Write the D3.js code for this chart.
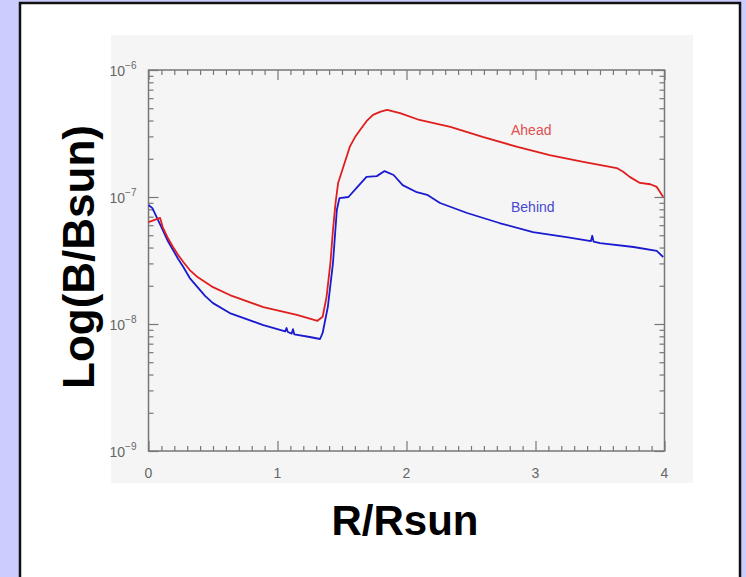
<!DOCTYPE html>
<html>
<head>
<meta charset="utf-8">
<script src="https://cdn.jsdelivr.net/npm/d3@7"></script>
<style>
  body { margin: 0; background: #ccccff; }
  svg { display: block; }
</style>
</head>
<body>
<div id="chart"></div>
<script>
// Ahead (red) and Behind (blue) profiles, R/Rsun vs B/Bsun
var aheadR = [0.00, 0.09, 0.11, 0.15, 0.19, 0.23, 0.27, 0.32, 0.38, 0.50, 0.63, 0.89, 1.15, 1.31, 1.35, 1.38, 1.41, 1.43, 1.45, 1.47, 1.51, 1.56, 1.60, 1.64, 1.69, 1.74, 1.80, 1.85, 1.95, 2.10, 2.34, 2.59, 2.86, 3.11, 3.37, 3.63, 3.68, 3.73, 3.81, 3.89, 3.94, 3.99]
var aheadB = [6.35e-8, 6.84e-8, 5.8e-8, 4.75e-8, 4.04e-8, 3.49e-8, 3.08e-8, 2.66e-8, 2.34e-8, 1.95e-8, 1.69e-8, 1.36e-8, 1.18e-8, 1.06e-8, 1.14e-8, 1.63e-8, 3.02e-8, 5.5e-8, 9.0e-8, 1.29e-7, 1.72e-7, 2.48e-7, 2.95e-7, 3.37e-7, 3.95e-7, 4.43e-7, 4.7e-7, 4.85e-7, 4.58e-7, 4.04e-7, 3.56e-7, 2.97e-7, 2.48e-7, 2.14e-7, 1.89e-7, 1.69e-7, 1.58e-7, 1.44e-7, 1.29e-7, 1.26e-7, 1.2e-7, 1.0e-7]

var behindR = [0.00, 0.03, 0.11, 0.15, 0.19, 0.23, 0.27, 0.32, 0.38, 0.44, 0.50, 0.63, 0.89, 1.06, 1.07, 1.08, 1.11, 1.12, 1.13, 1.25, 1.33, 1.35, 1.39, 1.43, 1.46, 1.48, 1.55, 1.62, 1.69, 1.77, 1.83, 1.90, 1.97, 2.08, 2.16, 2.26, 2.47, 2.72, 2.98, 3.24, 3.43, 3.44, 3.45, 3.50, 3.76, 3.94, 3.99]
var behindB = [8.65e-8, 8.18e-8, 5.5e-8, 4.5e-8, 3.83e-8, 3.25e-8, 2.81e-8, 2.3e-8, 1.95e-8, 1.66e-8, 1.46e-8, 1.22e-8, 9.8e-9, 8.75e-9, 9.3e-9, 8.65e-9, 8.4e-9, 9.1e-9, 8.3e-9, 7.9e-9, 7.62e-9, 8.5e-9, 1.36e-8, 3.02e-8, 7.9e-8, 9.8e-8, 1.0e-7, 1.2e-7, 1.44e-7, 1.46e-7, 1.6e-7, 1.49e-7, 1.24e-7, 1.09e-7, 1.04e-7, 8.97e-8, 7.48e-8, 6.24e-8, 5.3e-8, 4.84e-8, 4.5e-8, 4.95e-8, 4.45e-8, 4.34e-8, 4.04e-8, 3.76e-8, 3.37e-8]

var xTicks = [0, 1, 2, 3, 4]
var yTicks = [1e-9, 1e-8, 1e-7, 1e-6]
var yTickExp = ["\u22129", "\u22128", "\u22127", "\u22126"]
var seriesNames = ["Ahead", "Behind"]

var svgWidth = 746
var svgHeight = 577

var margin = { top: 70, left: 148.5, right: 81.5, bottom: 126 }
var width = svgWidth - margin.left - margin.right
var height = svgHeight - margin.top - margin.bottom

var svg = d3.select("#chart")
  .append("svg")
  .attr("width", svgWidth)
  .attr("height", svgHeight)

// slide panel
svg.append("rect")
  .attr("x", 20).attr("y", 3)
  .attr("width", 720).attr("height", 590)
  .attr("fill", "#ffffff")
  .attr("stroke", "#111")
  .attr("stroke-width", 2.5)

// plot image background
svg.append("rect")
  .attr("x", 111).attr("y", 35)
  .attr("width", 582).attr("height", 448)
  .attr("fill", "#f5f5f5")

var chartGroup = svg.append("g")
  .attr("transform", `translate(${margin.left}, ${margin.top})`)

var x = d3.scaleLinear().domain([0, 4]).range([0, width])
var y = d3.scaleLog().domain([1e-9, 1e-6]).range([height, 0])

var xMinor = d3.range(0, 40).map(i => i / 10).filter(v => v % 1 !== 0)
var yMinor = []
yTicks.slice(0, 3).forEach(t => { for (var k = 2; k < 10; k++) yMinor.push(t * k) })

var axisColor = "#777"

function styleAxis(g) {
  g.select(".domain").remove()
  g.selectAll("line").attr("stroke", axisColor).attr("stroke-width", 1.2)
}

// major + minor ticks, all pointing inwards
chartGroup.append("g").attr("transform", `translate(0, ${height})`)
  .call(d3.axisBottom(x).tickValues(xTicks).tickSize(-10).tickFormat("")).call(styleAxis)
chartGroup.append("g").attr("transform", `translate(0, ${height})`)
  .call(d3.axisBottom(x).tickValues(xMinor).tickSize(-5).tickFormat("")).call(styleAxis)
chartGroup.append("g")
  .call(d3.axisTop(x).tickValues(xTicks).tickSize(-10).tickFormat("")).call(styleAxis)
chartGroup.append("g")
  .call(d3.axisTop(x).tickValues(xMinor).tickSize(-5).tickFormat("")).call(styleAxis)

chartGroup.append("g")
  .call(d3.axisLeft(y).tickValues(yTicks).tickSize(-10).tickFormat("")).call(styleAxis)
chartGroup.append("g")
  .call(d3.axisLeft(y).tickValues(yMinor).tickSize(-5).tickFormat("")).call(styleAxis)
chartGroup.append("g").attr("transform", `translate(${width}, 0)`)
  .call(d3.axisRight(y).tickValues(yTicks).tickSize(-10).tickFormat("")).call(styleAxis)
chartGroup.append("g").attr("transform", `translate(${width}, 0)`)
  .call(d3.axisRight(y).tickValues(yMinor).tickSize(-5).tickFormat("")).call(styleAxis)

chartGroup.append("rect")
  .attr("width", width).attr("height", height)
  .attr("fill", "none")
  .attr("stroke", axisColor)
  .attr("stroke-width", 1.5)

// tick labels
chartGroup.selectAll(".xlab")
  .data(xTicks)
  .enter()
  .append("text")
  .attr("x", d => x(d))
  .attr("y", height + 27)
  .attr("text-anchor", "middle")
  .attr("font-family", "Liberation Sans, Arial, sans-serif")
  .attr("font-size", 14)
  .attr("fill", "#666")
  .text(d => d)

var ylab = chartGroup.selectAll(".ylab")
  .data(yTicks)
  .enter()
  .append("text")
  .attr("x", -39)
  .attr("y", d => y(d) + 6)
  .attr("font-family", "Liberation Sans, Arial, sans-serif")
  .attr("font-size", 14)
  .attr("fill", "#666")
ylab.append("tspan").text("10")
ylab.append("tspan")
  .attr("dy", -7)
  .attr("font-size", 10)
  .text((d, i) => yTickExp[i])

// curves
var line = d3.line()
  .x(d => x(d[0]))
  .y(d => y(d[1]))

var aheadData = d3.zip(aheadR, aheadB)
var behindData = d3.zip(behindR, behindB)

chartGroup.append("path")
  .datum(behindData)
  .attr("d", line)
  .attr("fill", "none")
  .attr("stroke", "#1a1ad0")
  .attr("stroke-width", 1.8)
  .attr("stroke-linejoin", "round")

chartGroup.append("path")
  .datum(aheadData)
  .attr("d", line)
  .attr("fill", "none")
  .attr("stroke", "#e01e1e")
  .attr("stroke-width", 1.8)
  .attr("stroke-linejoin", "round")

// series labels
chartGroup.append("text")
  .attr("x", x(2.81)).attr("y", y(3.08e-7))
  .attr("font-family", "Liberation Sans, Arial, sans-serif")
  .attr("font-size", 14)
  .attr("fill", "#e05050")
  .text(seriesNames[0])

chartGroup.append("text")
  .attr("x", x(2.81)).attr("y", y(7.6e-8))
  .attr("font-family", "Liberation Sans, Arial, sans-serif")
  .attr("font-size", 14)
  .attr("fill", "#4848d0")
  .text(seriesNames[1])

// axis titles
svg.append("text")
  .attr("transform", "translate(94, 257) rotate(-90)")
  .attr("text-anchor", "middle")
  .attr("font-family", "Liberation Sans, Arial, sans-serif")
  .attr("font-weight", "bold")
  .attr("font-size", 44)
  .attr("fill", "#000")
  .text("Log(B/Bsun)")

svg.append("text")
  .attr("x", 405).attr("y", 535)
  .attr("text-anchor", "middle")
  .attr("font-family", "Liberation Sans, Arial, sans-serif")
  .attr("font-weight", "bold")
  .attr("font-size", 42)
  .attr("fill", "#000")
  .text("R/Rsun")
</script>
</body>
</html>
